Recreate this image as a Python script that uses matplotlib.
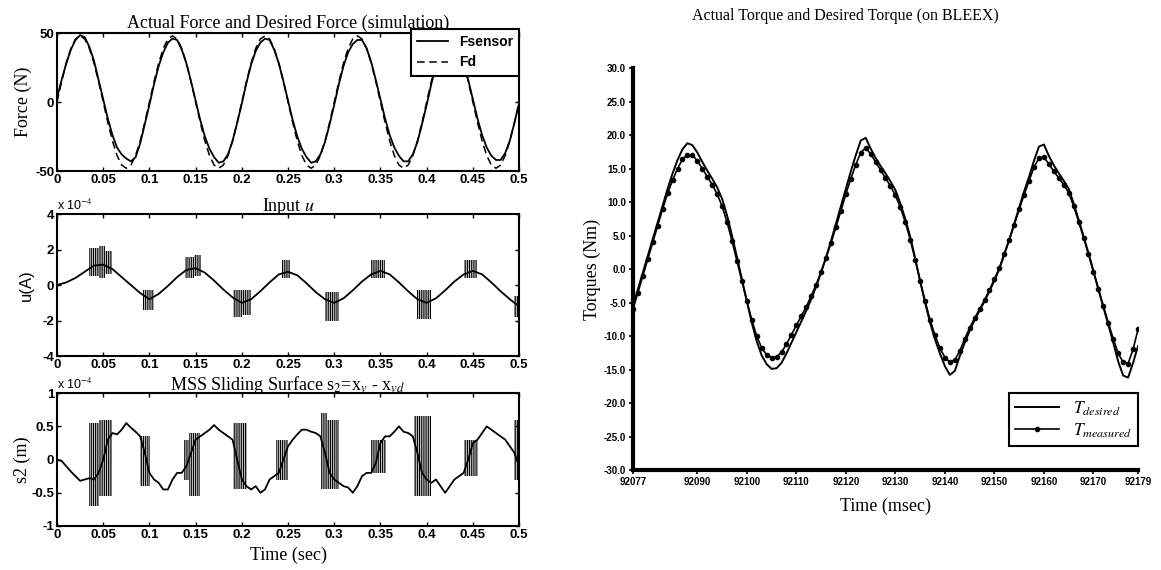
import matplotlib
matplotlib.use("Agg")
from matplotlib import pyplot as plt

plt.rcParams['mathtext.fontset'] = 'stix'
plt.rcParams['hatch.linewidth'] = 0.8

# ---------------- left column: simulation (t in sec, step 0.005 / 0.01) ----------------
t_force = [i * 0.005 for i in range(101)]
fd_cycle = [0.0, 14.8, 28.2, 38.8, 45.7, 48.0, 45.7, 38.8, 28.2, 14.8,
            0.0, -14.8, -28.2, -38.8, -45.7, -48.0, -45.7, -38.8, -28.2, -14.8]
f_desired = fd_cycle * 5 + [0.0]
f_sensor = [3, 16, 28, 38, 45, 48.5, 47, 40, 30, 16, 2, -12, -24, -33, -38, -41, -43, -40, -30, -16,
            -2, 13, 26, 36, 43, 46, 45, 38, 28, 15, 1, -13, -25, -34, -40, -44, -43, -38, -28, -15,
            -1, 14, 27, 37, 43, 46, 45, 38, 28, 15, 1, -13, -25, -34, -40, -44, -43, -38, -29, -16,
            -2, 13, 26, 36, 42, 45, 45, 39, 29, 16, 2, -12, -24, -33, -39, -43, -43, -38, -29, -16,
            -2, 13, 26, 36, 42, 45, 45, 39, 29, 16, 2, -12, -24, -33, -39, -42, -42, -37, -28, -15, -1]

t_u = [i * 0.01 for i in range(51)]
u_base = [0.0, 0.15, 0.4, 0.75, 1.1, 1.15, 0.9, 0.45, 0.0, -0.45,
          -0.8, -0.5, -0.05, 0.45, 0.85, 0.95, 0.7, 0.25, -0.25, -0.7,
          -1.0, -0.8, -0.35, 0.15, 0.6, 0.75, 0.55, 0.1, -0.4, -0.8,
          -1.0, -0.75, -0.3, 0.2, 0.6, 0.8, 0.6, 0.15, -0.35, -0.8,
          -1.0, -0.75, -0.3, 0.2, 0.6, 0.8, 0.6, 0.15, -0.35, -0.8, -1.2]
# chattering bursts of u (x 1e-4): start, end, low, high
u_b_t0 = [0.035, 0.045, 0.052, 0.093, 0.138, 0.148, 0.190, 0.200, 0.243, 0.290, 0.340, 0.390, 0.440, 0.494]
u_b_t1 = [0.045, 0.052, 0.060, 0.105, 0.148, 0.156, 0.200, 0.210, 0.252, 0.305, 0.355, 0.405, 0.455, 0.500]
u_b_lo = [0.5, 0.4, 0.6, -1.4, 0.4, 0.5, -1.8, -1.7, 0.4, -2.0, 0.4, -1.9, 0.4, -1.8]
u_b_hi = [2.1, 2.2, 1.9, -0.3, 1.6, 1.7, -0.3, -0.3, 1.4, -0.4, 1.4, -0.3, 1.4, -0.6]

t_s = [i * 0.005 for i in range(101)]
s_base = [0.0, -0.02, -0.1, -0.18, -0.25, -0.32, -0.3, -0.28, -0.3, -0.2,
          0.0, 0.3, 0.4, 0.38, 0.45, 0.55, 0.48, 0.42, 0.35, 0.1,
          -0.2, -0.3, -0.35, -0.45, -0.45, -0.3, -0.2, -0.2, -0.1, 0.1,
          0.3, 0.35, 0.4, 0.45, 0.52, 0.45, 0.4, 0.35, 0.3, 0.0,
          -0.3, -0.4, -0.45, -0.4, -0.5, -0.45, -0.3, -0.25, -0.2, 0.0,
          0.2, 0.3, 0.38, 0.45, 0.45, 0.42, 0.4, 0.35, 0.1, -0.2,
          -0.3, -0.35, -0.4, -0.42, -0.5, -0.4, -0.25, -0.2, -0.2, -0.05,
          0.25, 0.35, 0.35, 0.42, 0.5, 0.42, 0.4, 0.35, 0.1, -0.2,
          -0.3, -0.35, -0.3, -0.4, -0.5, -0.4, -0.3, -0.25, -0.2, 0.0,
          0.25, 0.3, 0.4, 0.5, 0.45, 0.4, 0.35, 0.3, 0.2, 0.1, -0.1]
s_b_t0 = [0.035, 0.045, 0.090, 0.137, 0.143, 0.190, 0.237, 0.286, 0.292, 0.340, 0.386, 0.440, 0.494]
s_b_t1 = [0.045, 0.060, 0.101, 0.143, 0.155, 0.206, 0.250, 0.292, 0.305, 0.356, 0.405, 0.456, 0.500]
s_b_lo = [-0.7, -0.55, -0.4, -0.3, -0.55, -0.45, -0.3, -0.45, -0.45, -0.2, -0.55, -0.25, -0.3]
s_b_hi = [0.55, 0.6, 0.35, 0.3, 0.4, 0.55, 0.3, 0.7, 0.6, 0.3, 0.65, 0.3, 0.6]

x_ticks = [0, 0.05, 0.1, 0.15, 0.2, 0.25, 0.3, 0.35, 0.4, 0.45, 0.5]
x_labels = ["0", "0.05", "0.1", "0.15", "0.2", "0.25", "0.3", "0.35", "0.4", "0.45", "0.5"]

# ---------------- right: BLEEX torque, 1 ms samples ----------------
t_ms = list(range(92077, 92180))
tau_desired = [-5.5, -3.0, -0.5, 2.0, 4.5, 7.0, 9.5, 12.0, 14.3, 16.3,
               17.9, 18.8, 18.5, 17.4, 16.0, 14.7, 13.5, 12.2, 10.5, 8.0,
               5.0, 1.8, -1.5, -4.8, -8.0, -10.8, -12.9, -14.2, -14.9, -14.8,
               -14.0, -12.6, -11.0, -9.4, -7.8, -6.2, -4.5, -2.6, -0.5, 1.8,
               4.2, 6.8, 9.4, 12.0, 14.6, 17.0, 19.2, 19.6, 18.0, 16.6,
               15.4, 14.3, 13.1, 11.8, 9.8, 7.5, 4.8, 1.6, -1.8, -5.0,
               -8.0, -10.5, -12.6, -14.5, -15.8, -15.2, -13.0, -11.0, -9.2, -7.6,
               -6.2, -4.8, -3.3, -1.7, 0.0, 2.2, 4.4, 6.8, 9.2, 11.6,
               13.8, 16.2, 18.3, 18.6, 16.9, 15.5, 14.3, 13.2, 12.0, 9.8,
               7.4, 4.9, 2.4, -0.3, -3.0, -5.7, -8.3, -11.0, -13.8, -15.9,
               -16.2, -14.0, -11.5]
tau_measured = [-6.0, -3.5, -1.0, 1.5, 4.0, 6.5, 9.0, 11.3, 13.3, 15.0,
                16.4, 17.1, 17.0, 16.2, 15.0, 13.8, 12.6, 11.2, 9.4, 7.0,
                4.2, 1.2, -1.8, -4.8, -7.6, -10.0, -11.8, -12.8, -13.2, -13.1,
                -12.4, -11.2, -9.8, -8.4, -7.0, -5.6, -4.0, -2.3, -0.4, 1.7,
                3.9, 6.3, 8.7, 11.2, 13.5, 15.6, 17.4, 18.1, 17.2, 16.0,
                14.8, 13.6, 12.4, 11.0, 9.2, 7.0, 4.4, 1.4, -1.8, -4.8,
                -7.6, -9.9, -11.8, -13.2, -13.9, -13.6, -12.2, -10.4, -8.8, -7.3,
                -6.0, -4.6, -3.1, -1.5, 0.2, 2.3, 4.4, 6.6, 8.9, 11.1,
                13.2, 15.2, 16.6, 16.7, 15.7, 14.6, 13.6, 12.6, 11.4, 9.4,
                7.1, 4.7, 2.2, -0.4, -3.0, -5.5, -8.0, -10.4, -12.6, -13.9,
                -14.1, -12.0, -9.0]
ms_ticks = [92077, 92090, 92100, 92110, 92120, 92130, 92140, 92150, 92160, 92170, 92179]
torque_ticks = [30, 25, 20, 15, 10, 5, 0, -5, -10, -15, -20, -25, -30]

serif = "Liberation Serif"
tickfont = {"family": "Liberation Sans", "weight": "bold", "size": 9.5}
rtickfont = {"family": "Liberation Sans", "weight": "bold", "size": 7}

fig = plt.figure(figsize=(11.61, 5.70), dpi=100)

ax1 = fig.add_axes([0.0491, 0.700, 0.398, 0.242])
ax2 = fig.add_axes([0.0491, 0.3754, 0.398, 0.249])
ax3 = fig.add_axes([0.0491, 0.0772, 0.398, 0.233])

for ax in (ax1, ax2, ax3):
    ax.set_xlim(0, 0.5)
    ax.set_xticks(x_ticks)
    ax.set_xticklabels(x_labels, fontdict=tickfont)
    ax.tick_params(direction="in", top=True, right=True, length=3, width=1, pad=2)
    for sp in ax.spines.values():
        sp.set_linewidth(1.5)

# force
ax1.plot(t_force, f_sensor, color="black", lw=1.3, label="Fsensor")
ax1.plot(t_force, f_desired, color="black", lw=1.1, ls=(0, (5, 3)), label="Fd")
ax1.set_ylim(-50, 50)
ax1.set_yticks([-50, 0, 50])
ax1.set_yticklabels(["-50", "0", "50"], fontdict=tickfont)
ax1.set_ylabel("Force (N)", family=serif, size=13, labelpad=2)
ax1.set_title("Actual Force and Desired Force (simulation)", family=serif, size=13, pad=4)
leg = ax1.legend(loc="upper right", bbox_to_anchor=(1.0, 1.03),
                 prop={"family": "Liberation Sans", "weight": "bold", "size": 10},
                 fancybox=False, edgecolor="black", framealpha=1, borderaxespad=0,
                 handlelength=2.2, labelspacing=0.45, borderpad=0.45)
leg.get_frame().set_linewidth(1.5)

# input u
ax2.plot(t_u, u_base, color="black", lw=1.3)
for a, b, lo, hi in zip(u_b_t0, u_b_t1, u_b_lo, u_b_hi):
    ax2.fill_between([a, b], [lo, lo], [hi, hi], facecolor="none", edgecolor="black",
                     hatch="|" * 9, linewidth=0)
ax2.set_ylim(-4, 4)
ax2.set_yticks([-4, -2, 0, 2, 4])
ax2.set_yticklabels(["-4", "-2", "0", "2", "4"], fontdict=tickfont)
ax2.set_ylabel("u(A)", family="Liberation Sans", size=12, labelpad=6)
ax2.set_title("Input $u$", family=serif, size=13, pad=2)
ax2.text(0.0, 1.01, "x 10$^{-4}$", transform=ax2.transAxes, ha="left", va="bottom",
         family="Liberation Sans", size=9)

# sliding surface
ax3.plot(t_s, s_base, color="black", lw=1.3)
for a, b, lo, hi in zip(s_b_t0, s_b_t1, s_b_lo, s_b_hi):
    ax3.fill_between([a, b], [lo, lo], [hi, hi], facecolor="none", edgecolor="black",
                     hatch="|" * 9, linewidth=0)
ax3.set_ylim(-1, 1)
ax3.set_yticks([-1, -0.5, 0, 0.5, 1])
ax3.set_yticklabels(["-1", "-0.5", "0", "0.5", "1"], fontdict=tickfont)
ax3.set_ylabel("s2 (m)", family=serif, size=13, labelpad=0)
ax3.set_xlabel("Time (sec)", family=serif, size=13, labelpad=4)
ax3.set_title("MSS Sliding Surface s$_2$=x$_v$ - x$_{vd}$", family=serif, size=13, pad=2)
ax3.text(0.0, 1.01, "x 10$^{-4}$", transform=ax3.transAxes, ha="left", va="bottom",
         family="Liberation Sans", size=9)

# right: torque
ax4 = fig.add_axes([0.5452, 0.1754, 0.435, 0.705])
ax4.plot(t_ms, tau_desired, color="black", lw=1.4, label="$T_{desired}$")
ax4.plot(t_ms, tau_measured, color="black", lw=1.2, marker="o", markersize=3,
         label="$T_{measured}$")
ax4.set_xlim(92077, 92179)
ax4.set_ylim(-30, 30)
ax4.set_xticks(ms_ticks)
ax4.set_xticklabels([str(v) for v in ms_ticks], fontdict=rtickfont)
ax4.set_yticks(torque_ticks)
ax4.set_yticklabels(["%.1f" % v for v in torque_ticks], fontdict=rtickfont)
ax4.spines["top"].set_visible(False)
ax4.spines["right"].set_visible(False)
ax4.spines["left"].set_linewidth(3)
ax4.spines["bottom"].set_linewidth(3)
ax4.tick_params(direction="out", length=3, width=1.2, pad=2)
ax4.set_ylabel("Torques (Nm)", family=serif, size=13, labelpad=2)
ax4.set_xlabel("Time (msec)", family=serif, size=13, labelpad=8)
fig.text(0.728, 0.972, "Actual Torque and Desired Torque (on BLEEX)", family=serif,
         size=11.5, ha="center", va="center")
leg2 = ax4.legend(loc="lower right", bbox_to_anchor=(1.0, 0.06),
                  prop={"family": serif, "size": 12.5},
                  fancybox=False, edgecolor="black", framealpha=1, borderaxespad=0,
                  handlelength=2.5, labelspacing=0.2, borderpad=0.35)
leg2.get_frame().set_linewidth(1.5)

fig.savefig("out.png", dpi=100)
